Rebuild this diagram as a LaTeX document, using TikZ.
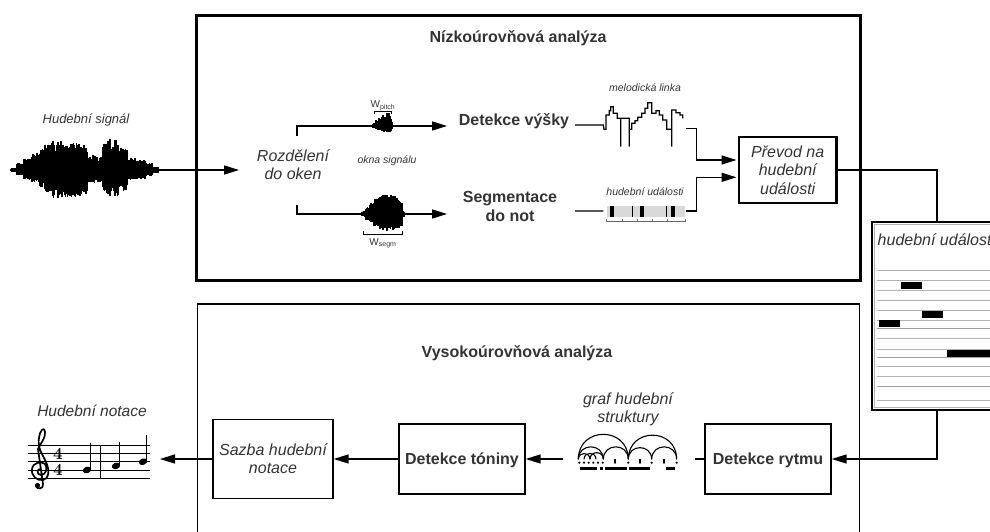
\documentclass[tikz,border=0pt]{standalone}
\usepackage{fontspec}
\newfontfamily\arialfont{Liberation Sans}
\usetikzlibrary{arrows.meta}
\newcommand\setfs[2]{\fontsize{#1}{#2}\selectfont}
% vertical-stroke waveform: #1 centre line, #2 list of x0/x1/up/down segments
\newcommand\drawwave[2]{%
  \foreach \a/\b/\u/\d in {#2} {
    \pgfmathtruncatemacro\nn{(\b-\a)/0.5}
    \foreach \i in {0,...,\nn} {
      \pgfmathsetmacro\xx{\a+\i*0.5}
      \pgfmathsetmacro\yt{#1-\u*(0.7+0.3*rnd)}
      \pgfmathsetmacro\yb{#1+\d*(0.7+0.3*rnd)}
      \draw[line width=1.1pt] (\xx,\yt) -- (\xx,\yb);
    }
  }%
}
\begin{document}
\begin{tikzpicture}[x=1pt,y=-1pt,
  every node/.style={inner sep=0pt, text=black!80},
  head/.style={font=\arialfont\bfseries\setfs{16}{19}, align=center},
  ital/.style={font=\arialfont\itshape\setfs{16}{18.3}, align=center},
  small/.style={font=\arialfont\itshape\setfs{10.5}{12}},
  conn/.style={line width=1.4pt},
  arr/.style={conn, -{Triangle[length=15pt,width=9pt]}},
  block/.style={draw=black, line width=1.3pt, minimum width=126pt, minimum height=70pt},
  thinbar/.style={line width=0.8pt},
]
\clip (0,0) rectangle (990,532);
\pgfmathsetseed{11}

% ---------- frames of the two stages ----------
\draw[line width=2.6pt] (196.5,15.5) rectangle (860.5,280.5);
\draw[line width=1.2pt] (197.5,304) rectangle (859.5,560);
\node[head, anchor=base] (lowT) at (518,43) {Nízkoúrovňová analýza};
\node[head, anchor=base] (highT) at (517,357.5) {Vysokoúrovňová analýza};

% ---------- input signal ----------
\node[font=\arialfont\itshape\setfs{13}{15}, anchor=base] (sigT) at (86,124) {Hudební signál};
\coordinate (sigL) at (10,170);
\coordinate (sigR) at (239,170);
\draw[arr] (sigL) -- (sigR);
\drawwave{170}{12/17/2/2, 17/24/7/6, 24/32/12/10, 32/40/17/13, 40/45/21/17,
  45/52/27/23, 52/54/31/28, 54/58/25/23, 58/62/29/28, 62/80/27/28, 80/87/25/26,
  87/95/15/13, 95/103/13/12, 103/108/27/23, 108/110/32/28, 110/115/25/23,
  115/118/31/26, 118/127/23/21, 127/135/12/10, 135/145/10/9, 145/152/7/6, 152/158/3/3}

% ---------- splitting into windows ----------
\node[ital] (rozd) at (293,165) {Rozdělení\\do oken};
\coordinate (rozdT) at (297,136);
\coordinate (rozdB) at (297,205);
\coordinate (vyskyIn) at (447,126);
\coordinate (segIn) at (447,214);
\draw[arr] (rozdT) |- (vyskyIn);
\draw[arr] (rozdB) |- (segIn);
\drawwave{126}{373/376/3/2, 376/379/6/4, 379/382/8/5, 382/386/11/6, 386/389/13/7, 389/391/10/6, 391/392/4/3}
\drawwave{214}{362/366/3/3, 366/370/7/6, 370/374/11/9, 374/378/15/12, 378/383/18/15,
  383/387/20/17, 387/391/18/16, 391/395/20/17, 395/399/17/15, 399/402/14/14, 402/404/3/3}
\draw[line width=0.9pt] (374,114.5) -- (374,111.5) -- (391,111.5) -- (391,114.5);
\node[font=\arialfont\setfs{10}{12}, anchor=base] (wp) at (383,108) {W\textsubscript{pitch}};
\draw[line width=0.9pt] (363,231) -- (363,234) -- (402,234) -- (402,231);
\node[font=\arialfont\setfs{10}{12}, anchor=base] (ws) at (383,245) {W\textsubscript{segm}};
\node[small, anchor=base] (okna) at (387,164) {okna signálu};

% ---------- low-level detectors ----------
\node[head, anchor=base] (vysky) at (514,125) {Detekce výšky};
\node[head] (segm) at (510,206) {Segmentace\\do not};

% melody contour
\node[small, anchor=base] (melT) at (645,91.5) {melodická linka};
\coordinate (melL) at (575,125);
\coordinate (melR) at (686,128.3);
\begin{scope}[shift={(570,90)}, x=0.3333pt, y=-0.3333pt]
\draw[line width=1.2pt] (melL) -- (100,105) -- (102,118) -- (108,118) -- (108,75) -- (118,75)
  -- (118,62) -- (122,62) -- (122,50) -- (130,50) -- (130,70) -- (142,70) -- (142,85)
  -- (152,85) -- (152,170) -- (152,85) -- (178,85) -- (178,170) -- (178,118) -- (185,118)
  -- (185,100) -- (195,100) -- (195,92) -- (203,92) -- (203,82) -- (215,82) -- (215,70)
  -- (225,70) -- (225,55) -- (233,55) -- (233,38) -- (245,38) -- (245,70) -- (258,70)
  -- (258,62) -- (268,62) -- (268,75) -- (278,75) -- (278,90) -- (290,90) -- (290,118)
  -- (305,118) -- (305,170) -- (305,60) -- (318,60) -- (318,68) -- (330,68) -- (330,75)
  -- (338,75) -- (338,85);
\end{scope}

% note events bar
\node[small, anchor=base] (evT) at (645,195) {hudební události};
\coordinate (evL) at (575,211);
\coordinate (evR) at (686,211);
\begin{scope}[shift={(560,160)}, x=0.3333pt, y=-0.3333pt]
\draw[conn] (evL) -- (130,153);
\fill[gray!30] (140,138) rectangle (375,170);
\fill (150,138) rectangle (162,170);
\fill (240,138) rectangle (252,170);
\fill (332,138) rectangle (345,170);
\draw[thinbar] (218,138) -- (218,170);
\draw[thinbar] (318,138) -- (318,170);
\draw[thinbar, black!60] (140,177) -- (140,185) -- (375,185) -- (375,177);
\foreach \t in {187,232,278,323} \draw[thinbar, black!60] (\t,185) -- (\t,178);
\end{scope}

% ---------- conversion to musical events ----------
\node[draw=black, line width=2.6pt, minimum width=97.5pt, minimum height=66pt, ital] (prevod)
  at (787.7,170) {Převod na\\hudební\\události};
\coordinate (pvIn1) at (736.5,160);
\coordinate (pvIn2) at (736.5,177.3);
\draw[arr] (melR) -- (696.5,128.3) |- (pvIn1);
\draw[arr] (evR) -- (696.5,211) |- (pvIn2);

% ---------- event sheet ----------
\coordinate (docT) at (937,222);
\coordinate (docB) at (937,410);
\draw[conn] (prevod.east) -| (docT);
\filldraw[fill=white, line width=1.2pt] (872,222) rectangle (1000,410);
\draw[gray!60, line width=0.8pt] (874.5,224.5) rectangle (1000,407.5);
\node[font=\arialfont\itshape\setfs{16}{18}, anchor=base west] (docTitle) at (877.5,245) {hudební události};
\foreach \yy in {270,280,290,300,310,320,338.3,349.3,366.7,376.7,400}
  \draw[gray!60, line width=0.8pt] (877,\yy) -- (995,\yy);
\foreach \yy in {328.3,357.3,386.7}
  \draw[gray!75, line width=1.2pt] (877,\yy) -- (995,\yy);
\fill (901,282) rectangle (922,288.5);
\fill (922,311) rectangle (943,317.5);
\fill (879,320) rectangle (900,327);
\fill (947,350) rectangle (995,357);

% ---------- high-level chain ----------
\node[block, text depth=0pt] (rytmu) at (768,459) {\arialfont\bfseries\setfs{16}{19}Detekce rytmu};
\node[block, text depth=0pt] (toniny) at (462,459) {\arialfont\bfseries\setfs{16}{19}Detekce tóniny};
\node[block, minimum width=120pt, minimum height=79pt, ital] (sazba) at (273,459) {Sazba hudební\\notace};
\draw[arr] (docB) |- (rytmu.east);

% structure graph
\node[ital] (grafT) at (628,409) {graf hudební\\struktury};
\coordinate (gL) at (563,459);
\coordinate (gR) at (695,459);
\draw[conn] (rytmu.west) -- (gR);
\draw[arr] (gL) -- (toniny.east);
\begin{scope}[shift={(560,420)}, x=0.3333pt, y=-0.3333pt]
\foreach \a/\b in {55/205, 205/350, 55/130, 130/205, 205/275, 275/350, 55/90, 72/108, 90/130}
  \draw[line width=1.1pt] (\a,118) .. controls (\a,{118-(\b-\a)*2/3}) and (\b,{118-(\b-\a)*2/3}) .. (\b,118);
\foreach \t in {165,240,312} \draw[line width=1.1pt] (\t,118) -- (\t,126);
\foreach \t in {58,72,86,100,114,128,165,205,240,275,312,350}
  \fill (\t,128) circle[radius=1.2pt];
\draw[line width=3pt] (60,147) -- (110,147) (120,147) -- (128,147) (135,147) -- (200,147)
  (208,147) -- (270,147) (318,147) -- (345,147);
\end{scope}

\draw[arr] (toniny.west) -- (sazba.east);

% ---------- resulting notation ----------
\node[font=\arialfont\itshape\setfs{15.5}{18}, anchor=base] (notT) at (92,416.7) {Hudební notace};
\coordinate (notR) at (160,459);
\draw[arr] (sazba.west) -- (notR);
\foreach \yy in {445,453.3,461.7,470,478.3}
  \draw[line width=0.8pt] (28,\yy) -- (150,\yy);
\draw[line width=1pt] (100,445) -- (100,478.3);
% treble clef
\begin{scope}[shift={(40,470)}]
\draw[line width=1.7pt] (1,-1) .. controls (-3,-2) and (-4,5) .. (1,5)
  .. controls (6,5) and (8,-2) .. (5,-6)
  .. controls (2,-9) and (-7,-8) .. (-8,-1)
  .. controls (-9,6) and (-3,11) .. (3,10)
  .. controls (9,9) and (10,1) .. (6,-8)
  .. controls (3,-15) and (-3,-22) .. (-1,-32)
  .. controls (0,-40) and (4,-44) .. (5,-38)
  .. controls (6,-32) and (0,-26) .. (-2,-21)
  -- (3,14)
  .. controls (4,19) and (-3,20) .. (-4,16);
\fill (-2.5,15.5) circle[radius=2.6pt];
\end{scope}
% time signature
\node[font=\bfseries\setfs{17}{18}, text=black] (ts1) at (58,453.5) {4};
\node[font=\bfseries\setfs{17}{18}, text=black] (ts2) at (58,470) {4};
% notes
\foreach \nx/\ny/\st in {87/470/443, 116/465.9/442, 143/461.7/435} {
  \fill[rotate around={20:(\nx,\ny)}] (\nx,\ny) ellipse[x radius=4.3pt, y radius=3.2pt];
  \draw[line width=1.1pt] (\nx+3.9,\ny-1) -- (\nx+3.9,\st);
}
\end{tikzpicture}
\end{document}
